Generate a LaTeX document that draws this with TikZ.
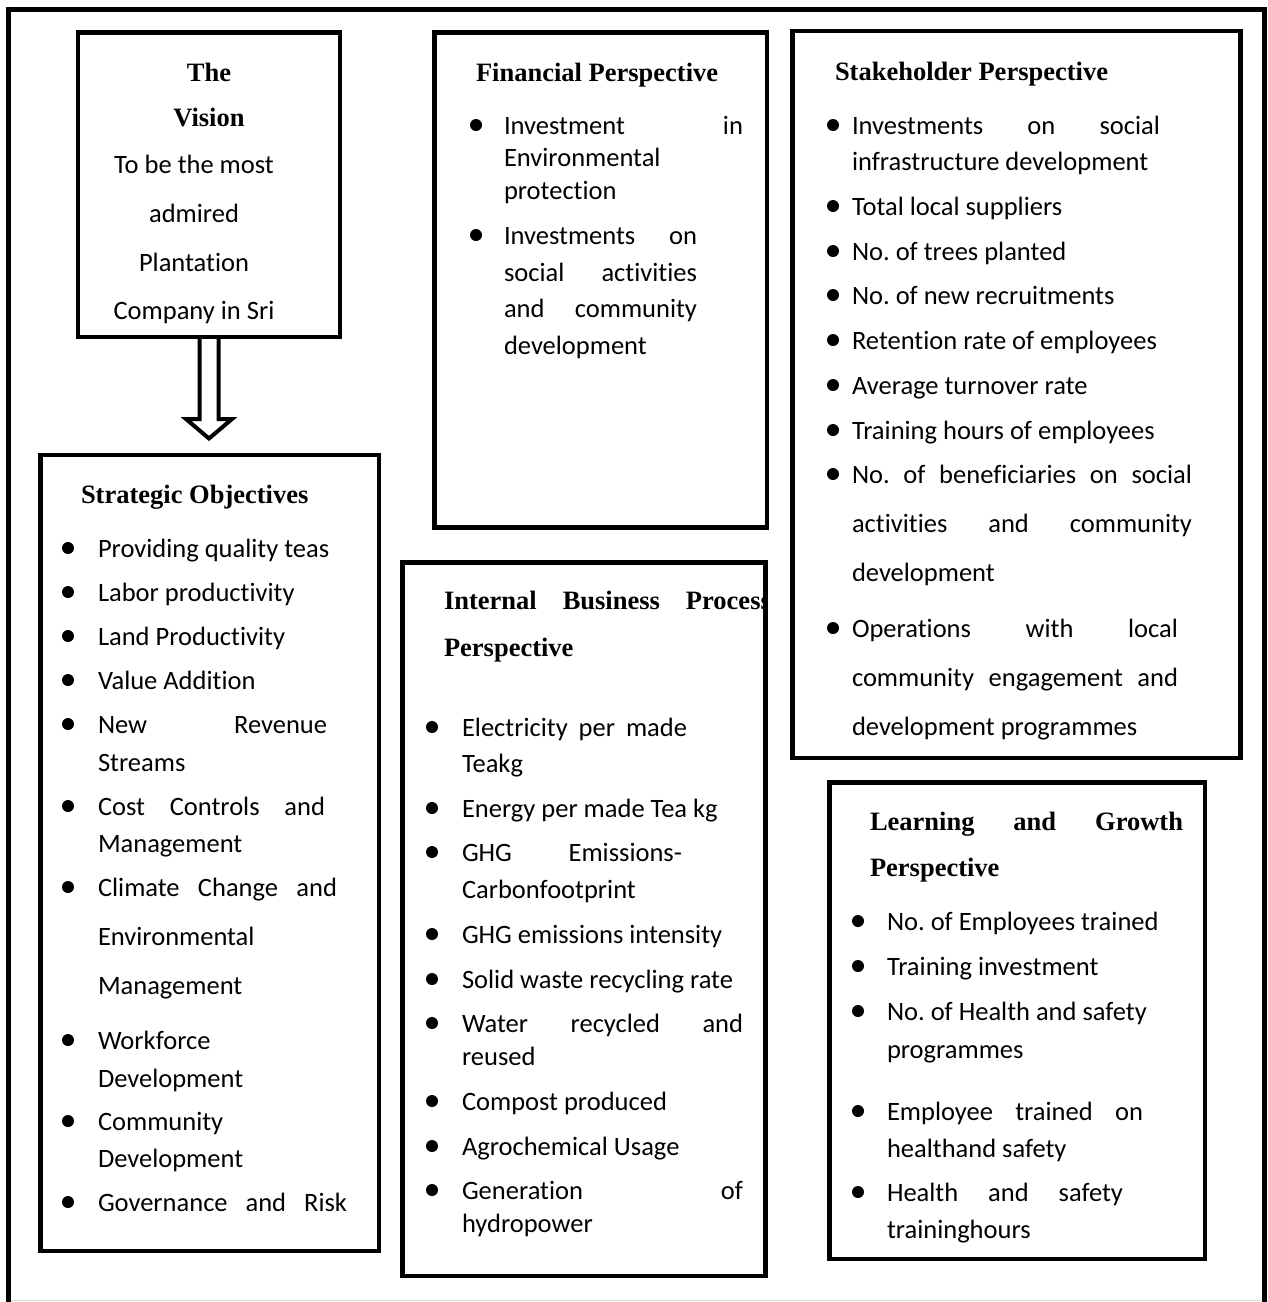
\documentclass[tikz,border=0pt]{standalone}
\usepackage{fontspec}
\setmainfont{Carlito}[Ligatures=NoCommon]
\newfontfamily\headfont{Liberation Serif}
\usetikzlibrary{calc}
\frenchspacing

\tikzset{
  frame/.style={line width=5pt, line join=miter},
  panel/.style={draw, line width=4.5pt, inner sep=0pt, outer sep=0pt, anchor=north west},
  txt/.style={inner sep=0pt, outer sep=0pt, anchor=base west, yshift=-9.5pt,
              font=\fontsize{26.5}{32}\selectfont},
  head/.style={txt, font=\fontsize{26.5}{32}\selectfont\headfont\bfseries},
  ctxt/.style={inner sep=0pt, outer sep=0pt, anchor=base, font=\fontsize{26.5}{32}\selectfont},
  chead/.style={ctxt, font=\fontsize{26.5}{32}\selectfont\headfont\bfseries},
  hollowarrow/.style={draw, line width=4pt, line join=miter},
}

% bulleted list lines: \bx = bullet column, \tx = text column
\newcommand\kpi[3]{\fill (\bx,#2) circle (6pt); \node[txt] (#1) at (\tx,#2) {#3};}
\newcommand\kpimore[3]{\node[txt] (#1) at (\tx,#2) {#3};}
\newcommand\kpiwide[4]{\fill (\bx,#2) circle (6pt); \node[txt] (#1) at (\tx,#2) {\makebox[#3pt][s]{#4}};}
\newcommand\kpimorewide[4]{\node[txt] (#1) at (\tx,#2) {\makebox[#3pt][s]{#4}};}

\begin{document}
\begin{tikzpicture}[x=1pt, y=-1pt]
\useasboundingbox (0,0) rectangle (1268,1302);

% outer frame, open at the foot
\draw[frame] (8.5,1302) -- (8.5,9.5) -- (1264.5,9.5) -- (1264.5,1302);
\draw[gray!25, line width=1.5pt] (11,1300.5) -- (1262,1300.5);

% panels
\node[panel, minimum width=262pt,   minimum height=304.5pt] (vision) at (78,32.5) {};
\node[panel, minimum width=338.5pt, minimum height=796pt]   (strat)  at (40.5,455) {};
\node[panel, minimum width=332.5pt, minimum height=495pt]   (fin)    at (434.5,32.5) {};
\node[panel, minimum width=448pt,   minimum height=727pt]   (stake)  at (792.5,31) {};
\node[panel, minimum width=363pt,   minimum height=713.5pt] (inter)  at (402.5,562.5) {};
\node[panel, minimum width=375.5pt, minimum height=476.5pt] (learn)  at (829.5,782.5) {};

% hollow arrow from the vision to the objectives
\draw[hollowarrow]
  ($(vision.south)+(-9.5,0)$) -- ($(vision.south)+(-9.5,82)$) -- ($(vision.south)+(-23,82)$)
  -- ($(vision.south)+(0,101.5)$)
  -- ($(vision.south)+(23,82)$) -- ($(vision.south)+(9.5,82)$) -- ($(vision.south)+(9.5,0)$);

% the vision
\node[chead] (v1) at (209,81) {The};
\node[chead] (v2) at (209,126) {Vision};
\node[ctxt] (v3) at (194,173) {To be the most};
\node[ctxt] (v4) at (194,222) {admired};
\node[ctxt] (v5) at (194,271) {Plantation};
\node[ctxt] (v6) at (194,319) {Company in Sri};

% strategic objectives
\node[head] (sh) at (81,494) {Strategic Objectives};
\def\bx{68}\def\tx{98}
\kpi{s1}{548}{Providing quality teas}
\kpi{s2}{592}{Labor productivity}
\kpi{s3}{636}{Land Productivity}
\kpi{s4}{680}{Value Addition}
\kpiwide{s5}{724}{229}{New Revenue}
\kpimore{s5b}{762}{Streams}
\kpiwide{s6}{806}{227}{Cost Controls and}
\kpimore{s6b}{843}{Management}
\kpiwide{s7}{887}{239}{Climate Change and}
\kpimore{s7b}{936}{Environmental}
\kpimore{s7c}{985}{Management}
\kpi{s8}{1040}{Workforce}
\kpimore{s8b}{1078}{Development}
\kpi{s9}{1121}{Community}
\kpimore{s9b}{1158}{Development}
\kpiwide{s10}{1202}{249}{Governance and Risk}

% financial perspective
\node[head] (fh) at (476,72) {Financial Perspective};
\def\bx{476}\def\tx{504}
\kpiwide{f1}{125}{239}{Investment in}
\kpimore{f1b}{157}{Environmental}
\kpimore{f1c}{190}{protection}
\kpiwide{f2}{235}{193}{Investments on}
\kpimorewide{f2b}{272}{193}{social activities}
\kpimorewide{f2c}{308}{193}{and community}
\kpimore{f2d}{345}{development}

% stakeholder perspective
\node[head] (kh) at (835,71) {Stakeholder Perspective};
\def\bx{833}\def\tx{852}
\kpiwide{k1}{125}{308}{Investments on social}
\kpimore{k1b}{161}{infrastructure development}
\kpi{k2}{206}{Total local suppliers}
\kpi{k3}{251}{No. of trees planted}
\kpi{k4}{295}{No. of new recruitments}
\kpi{k5}{340}{Retention rate of employees}
\kpi{k6}{385}{Average turnover rate}
\kpi{k7}{430}{Training hours of employees}
\kpiwide{k8}{474}{340}{No. of beneficiaries on social}
\kpimorewide{k8b}{523}{340}{activities and community}
\kpimore{k8c}{572}{development}
\kpiwide{k9}{628}{326}{Operations with local}
\kpimorewide{k9b}{677}{326}{community engagement and}
\kpimore{k9c}{726}{development programmes}

% internal business process perspective (heading runs past the panel edge)
\begin{scope}
  \clip ($(inter.north west)+(2.25,2.25)$) rectangle ($(inter.south east)+(-2.25,-2.25)$);
  \node[head] (ih) at (444,600) {\makebox[242pt][l]{Internal\hfill Business\hfill}Process};
\end{scope}
\node[head] (ih2) at (444,647) {Perspective};
\def\bx{432}\def\tx{462}
\kpiwide{i1}{727}{225}{Electricity per made}
\kpimore{i1b}{763}{Teakg}
\kpi{i2}{808}{Energy per made Tea kg}
\kpiwide{i3}{852}{220}{GHG Emissions-}
\kpimore{i3b}{889}{Carbonfootprint}
\kpi{i4}{934}{GHG emissions intensity}
\kpi{i5}{979}{Solid waste recycling rate}
\kpiwide{i6}{1023}{281}{Water recycled and}
\kpimore{i6b}{1056}{reused}
\kpi{i7}{1101}{Compost produced}
\kpi{i8}{1146}{Agrochemical Usage}
\kpiwide{i9}{1190}{281}{Generation of}
\kpimore{i9b}{1223}{hydropower}

% learning and growth perspective
\node[head] (gh) at (870,821) {\makebox[313pt][s]{Learning and Growth}};
\node[head] (gh2) at (870,867) {Perspective};
\def\bx{858}\def\tx{887}
\kpi{g1}{921}{No. of Employees trained}
\kpi{g2}{966}{Training investment}
\kpi{g3}{1011}{No. of Health and safety}
\kpimore{g3b}{1049}{programmes}
\kpiwide{g4}{1111}{256}{Employee trained on}
\kpimore{g4b}{1148}{healthand safety}
\kpiwide{g5}{1192}{236}{Health and safety}
\kpimore{g5b}{1229}{traininghours}

\end{tikzpicture}
\end{document}
